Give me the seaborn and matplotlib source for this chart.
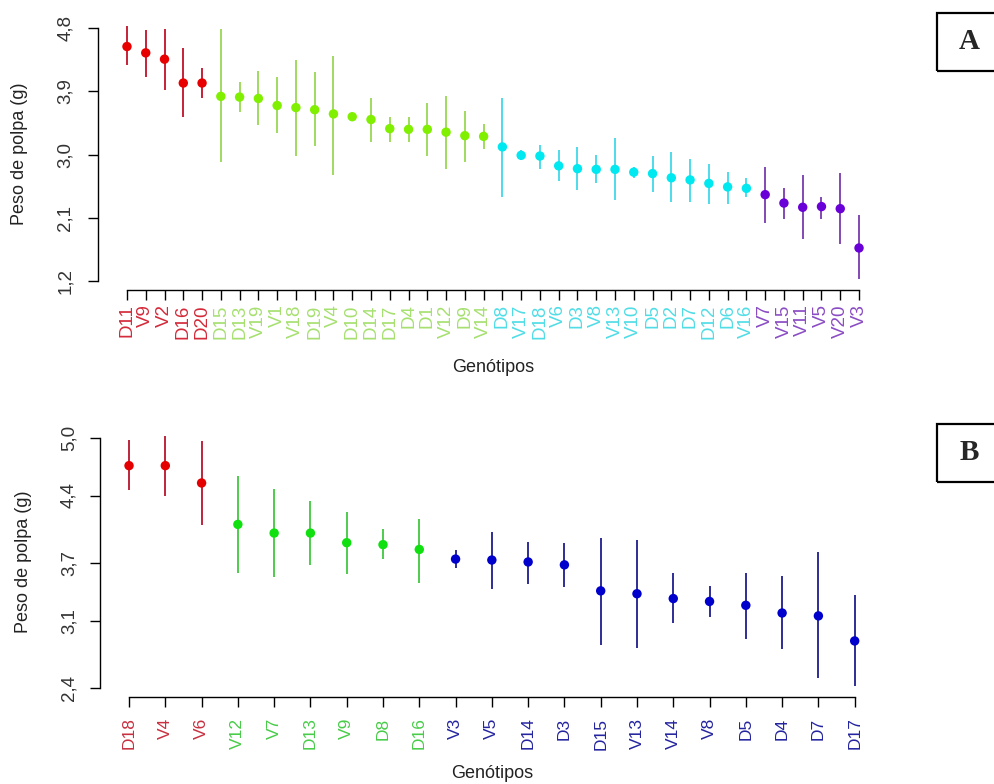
import numpy as np
import pandas as pd
import matplotlib
matplotlib.use("Agg")
import matplotlib.pyplot as plt
from matplotlib.patches import Rectangle
import seaborn as sns

# ---- Painel A: médias e intervalos de peso de polpa (g) ----
genotipos_a = ["D11", "V9", "V2", "D16", "D20", "D15", "D13", "V19", "V1", "V18",
               "D19", "V4", "D10", "D14", "D17", "D4", "D1", "V12", "D9", "V14",
               "D8", "V17", "D18", "V6", "D3", "V8", "V13", "V10", "D5", "D2",
               "D7", "D12", "D6", "V16", "V7", "V15", "V11", "V5", "V20", "V3"]
media_a = [4.54, 4.45, 4.36, 4.02, 4.02, 3.83, 3.82, 3.80, 3.70, 3.67,
           3.64, 3.58, 3.54, 3.50, 3.37, 3.36, 3.36, 3.32, 3.27, 3.26,
           3.11, 2.99, 2.98, 2.84, 2.80, 2.79, 2.79, 2.75, 2.73, 2.67,
           2.64, 2.59, 2.54, 2.52, 2.43, 2.31, 2.25, 2.26, 2.23, 1.67]
inferior_a = [4.27, 4.11, 3.92, 3.53, 3.80, 2.89, 3.61, 3.42, 3.31, 2.98,
              3.12, 2.71, 3.52, 3.18, 3.18, 3.18, 2.98, 2.80, 2.89, 3.08,
              2.40, 2.92, 2.79, 2.62, 2.50, 2.59, 2.36, 2.66, 2.47, 2.32,
              2.32, 2.30, 2.30, 2.40, 2.02, 2.09, 1.80, 2.09, 1.72, 1.23]
superior_a = [4.83, 4.78, 4.79, 4.52, 4.24, 4.79, 4.03, 4.19, 4.11, 4.35,
              4.18, 4.41, 3.56, 3.81, 3.54, 3.54, 3.73, 3.84, 3.62, 3.44,
              3.81, 3.06, 3.14, 3.06, 3.11, 2.99, 3.23, 2.82, 2.98, 3.04,
              2.94, 2.87, 2.75, 2.66, 2.83, 2.53, 2.71, 2.40, 2.74, 2.14]
grupo_a = ["a", "a", "a", "a", "a",
           "b", "b", "b", "b", "b", "b", "b", "b", "b", "b", "b", "b", "b", "b", "b",
           "c", "c", "c", "c", "c", "c", "c", "c", "c", "c", "c", "c", "c", "c",
           "d", "d", "d", "d", "d", "d"]
yticks_a = [1.2, 2.1, 3.0, 3.9, 4.8]
yrotulos_a = ["1,2", "2,1", "3,0", "3,9", "4,8"]

# ---- Painel B ----
genotipos_b = ["D18", "V4", "V6", "V12", "V7", "D13", "V9", "D8", "D16", "V3",
               "V5", "D14", "D3", "D15", "V13", "V14", "V8", "D5", "D4", "D7", "D17"]
media_b = [4.71, 4.71, 4.53, 4.10, 4.01, 4.01, 3.91, 3.89, 3.84, 3.74,
           3.73, 3.71, 3.68, 3.41, 3.38, 3.33, 3.30, 3.26, 3.18, 3.15, 2.89]
inferior_b = [4.46, 4.39, 4.09, 3.60, 3.55, 3.68, 3.59, 3.74, 3.49, 3.65,
              3.43, 3.48, 3.45, 2.85, 2.82, 3.08, 3.14, 2.91, 2.81, 2.50, 2.42]
superior_b = [4.98, 5.02, 4.97, 4.60, 4.47, 4.34, 4.23, 4.05, 4.16, 3.83,
              4.02, 3.92, 3.91, 3.96, 3.94, 3.60, 3.46, 3.60, 3.56, 3.81, 3.37]
grupo_b = ["a", "a", "a",
           "b", "b", "b", "b", "b", "b",
           "c", "c", "c", "c", "c", "c", "c", "c", "c", "c", "c", "c"]
yticks_b = [2.4, 3.1, 3.7, 4.4, 5.0]
yrotulos_b = ["2,4", "3,1", "3,7", "4,4", "5,0"]

# cores: (ponto, barra, rótulo)
cores_a = {"a": ("#E80000", "#C01028", "#D42A3A"),
           "b": ("#80F000", "#98D850", "#A6E070"),
           "c": ("#00E8F0", "#40D8E8", "#50DDE6"),
           "d": ("#6A00D8", "#7A3AB0", "#8A4CC4")}
cores_b = {"a": ("#E40000", "#B8142C", "#C83040"),
           "b": ("#10E010", "#40C840", "#48CC48"),
           "c": ("#0000CC", "#1C1C8C", "#2424A0")}

sns.set_theme(style="ticks")
plt.rcParams["font.family"] = ["Liberation Sans", "DejaVu Sans"]

W, H = 994, 784
fig = plt.figure(figsize=(W / 100, H / 100), dpi=100)


def painel(rect, genotipos, media, inf, sup, grupo, cores, yticks, yrotulos,
           xlim, ylim, fs_x, pad_x, pad_y, ylab_x, xlab_y):
    ax = fig.add_axes(rect)
    df = pd.DataFrame({"pos": np.arange(len(genotipos)), "genotipo": genotipos,
                       "media": media, "inf": inf, "sup": sup, "grupo": grupo})
    for g, sub in df.groupby("grupo"):
        ax.vlines(sub["pos"], sub["inf"], sub["sup"], color=cores[g][1],
                  lw=1.3, zorder=2)
    sns.scatterplot(data=df, x="pos", y="media", hue="grupo",
                    palette={g: c[0] for g, c in cores.items()},
                    s=46, linewidth=0, legend=False, ax=ax, zorder=3)
    ax.set_xlim(*xlim)
    ax.set_ylim(*ylim)
    for s in ("top", "right"):
        ax.spines[s].set_visible(False)
    for s in ("left", "bottom"):
        ax.spines[s].set_linewidth(1.0)
        ax.spines[s].set_color("black")
    ax.spines["left"].set_bounds(yticks[0], yticks[-1])
    ax.spines["bottom"].set_bounds(0, len(genotipos) - 1)

    ax.set_xticks(df["pos"])
    ax.set_xticklabels(genotipos, rotation=90, fontsize=fs_x)
    for lab, g in zip(ax.get_xticklabels(), grupo):
        lab.set_color(cores[g][2])
    ax.set_yticks(yticks)
    ax.set_yticklabels(yrotulos, rotation=90, va="center", fontsize=13.5,
                       color="#333333")
    ax.tick_params(axis="x", length=7.2, width=1.0, pad=pad_x, color="black")
    ax.tick_params(axis="y", length=7.2, width=1.0, pad=pad_y, color="black")

    ax.set_ylabel("Peso de polpa (g)", fontsize=13, color="#222222")
    ax.yaxis.set_label_coords(ylab_x, 0.5)
    ax.yaxis.label.set_va("center")
    ax.set_xlabel("Genótipos", fontsize=13, color="#222222")
    ax.xaxis.set_label_coords(0.5, xlab_y)
    ax.xaxis.label.set_va("center")
    return ax


def px_rect(left, right, top, bottom):
    return [left / W, 1 - bottom / H, (right - left) / W, (bottom - top) / H]


# Painel A
painel(px_rect(97.7, 888.3, 18.1, 290.1), genotipos_a, media_a, inferior_a,
       superior_a, grupo_a, cores_a, yticks_a, yrotulos_a,
       xlim=(-1.56, 40.56), ylim=(1.07, 4.945), fs_x=13.5, pad_x=3,
       pad_y=10, ylab_x=(19 - 97.7) / 790.6, xlab_y=(290.1 - 368) / 272.0)

# Painel B
painel(px_rect(100.0, 883.7, 427.7, 696.5), genotipos_b, media_b, inferior_b,
       superior_b, grupo_b, cores_b, yticks_b, yrotulos_b,
       xlim=(-0.8, 20.8), ylim=(2.313, 5.104), fs_x=12.5, pad_x=8,
       pad_y=9, ylab_x=(24 - 100.0) / 783.7, xlab_y=(696.5 - 773) / 268.8)

# Identificação dos painéis
for letra, top, bottom in (("A", 12.7, 70.7), ("B", 424.0, 481.7)):
    fig.add_artist(Rectangle((937 / W, 1 - bottom / H), 64 / W, (bottom - top) / H,
                             transform=fig.transFigure, fill=False,
                             edgecolor="black", lw=1.6, clip_on=False))
    fig.text(969 / W, 1 - (top + bottom) / 2 / H, letra, ha="center", va="center",
             fontsize=21, fontweight="bold", family=["Liberation Serif", "DejaVu Serif"])

fig.savefig("out.png", dpi=100, facecolor="white")
